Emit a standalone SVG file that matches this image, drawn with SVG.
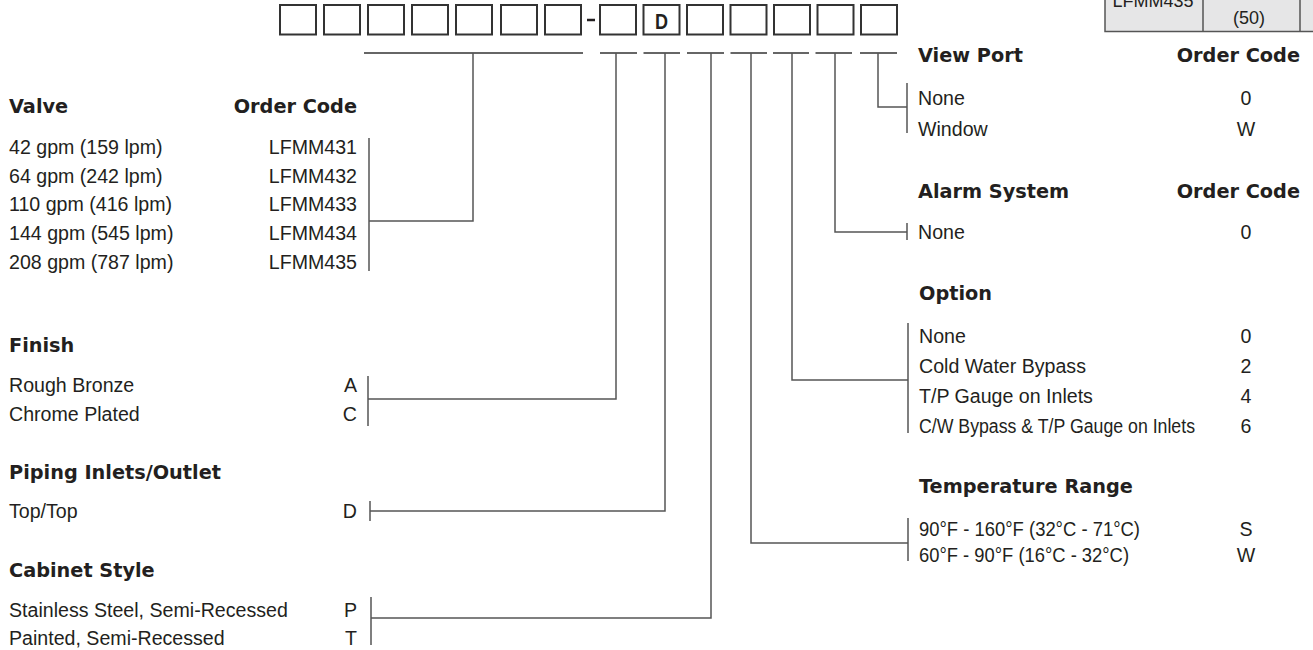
<svg xmlns="http://www.w3.org/2000/svg" width="1313" height="650" viewBox="0 0 1313 650">
<style>
.t{font-family:"Liberation Sans",Arial,sans-serif;font-size:19.6px;fill:#231f20}
.h{font-family:"DejaVu Sans","Liberation Sans",sans-serif;font-weight:bold;font-size:19.3px;fill:#231f20}
.e{text-anchor:end}
.m{text-anchor:middle}
.box{fill:#fff;stroke:#333;stroke-width:2}
.ul{stroke:#666;stroke-width:2;fill:none}
.ln{stroke:#555;stroke-width:1.5;fill:none}
.tb{fill:#e6e6e7;stroke:#555;stroke-width:1.5}
.ts{font-family:"Liberation Sans",Arial,sans-serif;font-size:18px;fill:#231f20;text-anchor:middle}
</style>
<rect width="1313" height="650" fill="#fff"/>
<g id="table-fragment">
<rect class="tb" x="1105" y="-20" width="220" height="51.5"/>
<line class="ln" x1="1203" y1="-20" x2="1203" y2="31.5"/>
<line class="ln" x1="1300" y1="-20" x2="1300" y2="31.5"/>
<text class="ts" x="1153" y="7">LFMM435</text>
<text class="ts" x="1249" y="24">(50)</text>
</g>
<g id="code-boxes">
<rect class="box" x="280" y="5" width="36" height="29.5"/>
<rect class="box" x="324" y="5" width="36" height="29.5"/>
<rect class="box" x="368" y="5" width="36" height="29.5"/>
<rect class="box" x="412" y="5" width="36" height="29.5"/>
<rect class="box" x="456" y="5" width="36" height="29.5"/>
<rect class="box" x="501" y="5" width="36" height="29.5"/>
<rect class="box" x="545" y="5" width="36" height="29.5"/>
<line x1="587" y1="20" x2="595" y2="20" stroke="#231f20" stroke-width="2.5"/>
<rect class="box" x="600" y="5" width="36" height="29.5"/>
<rect class="box" x="643.5" y="5" width="36" height="29.5"/>
<text x="661.5" y="28.5" font-family="Liberation Sans,Arial,sans-serif" font-weight="bold" font-size="22" fill="#231f20" text-anchor="middle" textLength="13" lengthAdjust="spacingAndGlyphs">D</text>
<rect class="box" x="687" y="5" width="36" height="29.5"/>
<rect class="box" x="730.5" y="5" width="36" height="29.5"/>
<rect class="box" x="774" y="5" width="36" height="29.5"/>
<rect class="box" x="817.5" y="5" width="36" height="29.5"/>
<rect class="box" x="861" y="5" width="36" height="29.5"/>
</g>
<g id="connectors">
<line class="ul" x1="364" y1="53" x2="583" y2="53"/>
<line class="ul" x1="600" y1="53" x2="637" y2="53"/>
<line class="ul" x1="643.5" y1="53" x2="680" y2="53"/>
<line class="ul" x1="687" y1="53" x2="724" y2="53"/>
<line class="ul" x1="730.5" y1="53" x2="767" y2="53"/>
<line class="ul" x1="773" y1="53" x2="809" y2="53"/>
<line class="ul" x1="815.5" y1="53" x2="852" y2="53"/>
<line class="ul" x1="860" y1="53" x2="897" y2="53"/>
<polyline class="ln" points="473,53 473,221 369,221"/>
<line class="ln" x1="369" y1="138" x2="369" y2="271"/>
<polyline class="ln" points="616,53 616,399 368,399"/>
<line class="ln" x1="368" y1="376" x2="368" y2="426"/>
<polyline class="ln" points="665,53 665,511 370,511"/>
<line class="ln" x1="370" y1="501" x2="370" y2="521"/>
<polyline class="ln" points="711,53 711,618 371,618"/>
<line class="ln" x1="371" y1="597" x2="371" y2="645"/>
<polyline class="ln" points="751,53 751,543 908,543"/>
<line class="ln" x1="908" y1="518" x2="908" y2="561"/>
<polyline class="ln" points="792,53 792,380 908,380"/>
<line class="ln" x1="908" y1="323" x2="908" y2="433"/>
<polyline class="ln" points="835,53 835,232 907,232"/>
<line class="ln" x1="907" y1="223" x2="907" y2="240"/>
<polyline class="ln" points="878,53 878,107 907,107"/>
<line class="ln" x1="907" y1="83" x2="907" y2="133"/>
</g>
<g id="valve">
<text class="h" x="9" y="113">Valve</text>
<text class="h e" x="357" y="113">Order Code</text>
<text class="t" x="9" y="154">42 gpm (159 lpm)</text>
<text class="t e" x="357" y="154">LFMM431</text>
<text class="t" x="9" y="182.7">64 gpm (242 lpm)</text>
<text class="t e" x="357" y="182.7">LFMM432</text>
<text class="t" x="9" y="211.3">110 gpm (416 lpm)</text>
<text class="t e" x="357" y="211.3">LFMM433</text>
<text class="t" x="9" y="240">144 gpm (545 lpm)</text>
<text class="t e" x="357" y="240">LFMM434</text>
<text class="t" x="9" y="268.6">208 gpm (787 lpm)</text>
<text class="t e" x="357" y="268.6">LFMM435</text>
</g>
<g id="finish">
<text class="h" x="9" y="351.5">Finish</text>
<text class="t" x="9" y="391.5">Rough Bronze</text>
<text class="t e" x="357" y="391.5">A</text>
<text class="t" x="9" y="420.5">Chrome Plated</text>
<text class="t e" x="357" y="420.5">C</text>
</g>
<g id="piping">
<text class="h" x="9" y="478.5">Piping Inlets/Outlet</text>
<text class="t" x="9" y="518">Top/Top</text>
<text class="t e" x="357" y="518">D</text>
</g>
<g id="cabinet">
<text class="h" x="9" y="576.5">Cabinet Style</text>
<text class="t" x="9" y="616.5">Stainless Steel, Semi-Recessed</text>
<text class="t e" x="357" y="616.5">P</text>
<text class="t" x="9" y="645">Painted, Semi-Recessed</text>
<text class="t e" x="357" y="645">T</text>
</g>
<g id="view-port">
<text class="h" x="918" y="62">View Port</text>
<text class="h e" x="1300" y="62">Order Code</text>
<text class="t" x="918" y="105">None</text>
<text class="t m" x="1246" y="105">0</text>
<text class="t" x="918" y="135.5">Window</text>
<text class="t m" x="1246" y="135.5">W</text>
</g>
<g id="alarm">
<text class="h" x="918" y="198">Alarm System</text>
<text class="h e" x="1300" y="198">Order Code</text>
<text class="t" x="918" y="239">None</text>
<text class="t m" x="1246" y="239">0</text>
</g>
<g id="option">
<text class="h" x="919" y="300">Option</text>
<text class="t" x="919" y="342.5">None</text>
<text class="t m" x="1246" y="342.5">0</text>
<text class="t" x="919" y="372.5">Cold Water Bypass</text>
<text class="t m" x="1246" y="372.5">2</text>
<text class="t" x="919" y="403">T/P Gauge on Inlets</text>
<text class="t m" x="1246" y="403">4</text>
<text class="t" x="919" y="433" textLength="276" lengthAdjust="spacingAndGlyphs">C/W Bypass &amp; T/P Gauge on Inlets</text>
<text class="t m" x="1246" y="433">6</text>
</g>
<g id="temperature">
<text class="h" x="919" y="493">Temperature Range</text>
<text class="t" x="919" y="535.5" textLength="221" lengthAdjust="spacingAndGlyphs">90°F - 160°F (32°C - 71°C)</text>
<text class="t m" x="1246" y="535.5">S</text>
<text class="t" x="919" y="562" textLength="210" lengthAdjust="spacingAndGlyphs">60°F - 90°F (16°C - 32°C)</text>
<text class="t m" x="1246" y="562">W</text>
</g>
</svg>
